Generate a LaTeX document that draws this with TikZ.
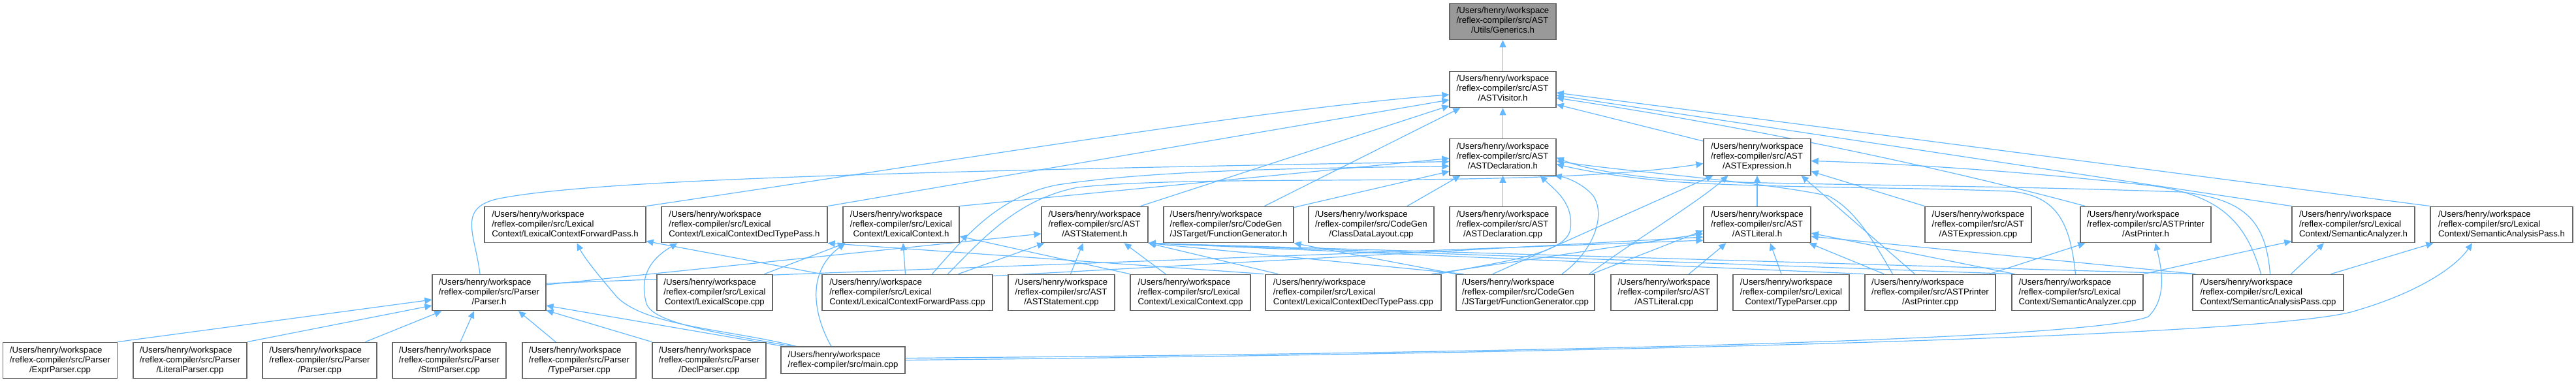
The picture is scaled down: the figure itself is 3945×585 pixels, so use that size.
\documentclass[tikz,border=0pt]{standalone}
\usepackage{fontspec}
\setmainfont{Liberation Sans}
\usetikzlibrary{arrows.meta,calc,backgrounds}
\definecolor{edgeblue}{HTML}{63B8FF}
\definecolor{boxgrey}{HTML}{666666}
\definecolor{rootgrey}{HTML}{999999}
\newcommand\flab[2]{\begin{tabular}{@{}l@{}}/Users/henry/workspace\\#1\\\multicolumn{1}{@{}c@{}}{#2}\end{tabular}}
\newcommand\mlab[1]{\begin{tabular}{@{}l@{}}/Users/henry/workspace\\\multicolumn{1}{@{}c@{}}{#1}\end{tabular}}
\begin{document}
\begin{tikzpicture}[x=1pt,y=-1pt,
  box/.style={draw=boxgrey,line width=1.3pt,fill=white,inner sep=0pt,minimum height=55.5pt,font=\fontsize{13.2}{15}\selectfont},
  dep/.style={draw=edgeblue,line width=1.2pt,-{Triangle[length=11pt,width=10pt]}}]
\useasboundingbox (0,0) rectangle (3945,585);
% row 0-2
\node[box,fill=rootgrey,minimum width=163pt] (G) at (2301.5,33) {\flab{/reflex-compiler/src/AST}{/Utils/Generics.h}};
\node[box,minimum width=163pt] (V) at (2301.5,137) {\flab{/reflex-compiler/src/AST}{/ASTVisitor.h}};
\node[box,minimum width=163pt] (D) at (2301.5,240.5) {\flab{/reflex-compiler/src/AST}{/ASTDeclaration.h}};
\node[box,minimum width=164pt] (E) at (2691,240.5) {\flab{/reflex-compiler/src/AST}{/ASTExpression.h}};
% row 3
\node[box,minimum width=247pt] (LFPh) at (865.5,344) {\flab{/reflex-compiler/src/Lexical}{Context/LexicalContextForwardPass.h}};
\node[box,minimum width=254pt] (LDTh) at (1140,344) {\flab{/reflex-compiler/src/Lexical}{Context/LexicalContextDeclTypePass.h}};
\node[box,minimum width=178pt] (LCh) at (1380,344) {\flab{/reflex-compiler/src/Lexical}{Context/LexicalContext.h}};
\node[box,minimum width=163pt] (Sh) at (1676.5,344) {\flab{/reflex-compiler/src/AST}{/ASTStatement.h}};
\node[box,minimum width=199pt] (FGh) at (1881.5,344) {\flab{/reflex-compiler/src/CodeGen}{/JSTarget/FunctionGenerator.h}};
\node[box,minimum width=192pt] (CDL) at (2100,344) {\flab{/reflex-compiler/src/CodeGen}{/ClassDataLayout.cpp}};
\node[box,minimum width=163pt] (Dcpp) at (2301.5,344) {\flab{/reflex-compiler/src/AST}{/ASTDeclaration.cpp}};
\node[box,minimum width=164pt] (Lh) at (2691,344) {\flab{/reflex-compiler/src/AST}{/ASTLiteral.h}};
\node[box,minimum width=163pt] (Ecpp) at (3029.5,344) {\flab{/reflex-compiler/src/AST}{/ASTExpression.cpp}};
\node[box,minimum width=200pt] (APh) at (3286,344) {\flab{/reflex-compiler/src/ASTPrinter}{/AstPrinter.h}};
\node[box,minimum width=188pt] (SAh) at (3604,344) {\flab{/reflex-compiler/src/Lexical}{Context/SemanticAnalyzer.h}};
\node[box,minimum width=218pt] (SAPh) at (3831,344) {\flab{/reflex-compiler/src/Lexical}{Context/SemanticAnalysisPass.h}};
% row 4
\node[box,minimum width=174pt] (Ph) at (749,448) {\flab{/reflex-compiler/src/Parser}{/Parser.h}};
\node[box,minimum width=177pt] (LScpp) at (1094.5,448) {\flab{/reflex-compiler/src/Lexical}{Context/LexicalScope.cpp}};
\node[box,minimum width=261pt] (LFPcpp) at (1389.5,448) {\flab{/reflex-compiler/src/Lexical}{Context/LexicalContextForwardPass.cpp}};
\node[box,minimum width=163pt] (Scpp) at (1625.5,448) {\flab{/reflex-compiler/src/AST}{/ASTStatement.cpp}};
\node[box,minimum width=184pt] (LCcpp) at (1823,448) {\flab{/reflex-compiler/src/Lexical}{Context/LexicalContext.cpp}};
\node[box,minimum width=269pt] (LDTcpp) at (2072.5,448) {\flab{/reflex-compiler/src/Lexical}{Context/LexicalContextDeclTypePass.cpp}};
\node[box,minimum width=212pt] (FGcpp) at (2336,448) {\flab{/reflex-compiler/src/CodeGen}{/JSTarget/FunctionGenerator.cpp}};
\node[box,minimum width=163pt] (Lcpp) at (2548.5,448) {\flab{/reflex-compiler/src/AST}{/ASTLiteral.cpp}};
\node[box,minimum width=178pt] (TPcpp) at (2743,448) {\flab{/reflex-compiler/src/Lexical}{Context/TypeParser.cpp}};
\node[box,minimum width=200pt] (APcpp) at (2956,448) {\flab{/reflex-compiler/src/ASTPrinter}{/AstPrinter.cpp}};
\node[box,minimum width=201pt] (SAcpp) at (3181.5,448) {\flab{/reflex-compiler/src/Lexical}{Context/SemanticAnalyzer.cpp}};
\node[box,minimum width=231pt] (SAPcpp) at (3473.5,448) {\flab{/reflex-compiler/src/Lexical}{Context/SemanticAnalysisPass.cpp}};
% row 5
\node[box,minimum width=175pt] (ExprP) at (92,552) {\flab{/reflex-compiler/src/Parser}{/ExprParser.cpp}};
\node[box,minimum width=174pt] (LitP) at (291,552) {\flab{/reflex-compiler/src/Parser}{/LiteralParser.cpp}};
\node[box,minimum width=175pt] (Pcpp) at (489.5,552) {\flab{/reflex-compiler/src/Parser}{/Parser.cpp}};
\node[box,minimum width=174pt] (StmtP) at (688,552) {\flab{/reflex-compiler/src/Parser}{/StmtParser.cpp}};
\node[box,minimum width=174pt] (TypeP) at (887,552) {\flab{/reflex-compiler/src/Parser}{/TypeParser.cpp}};
\node[box,minimum width=174pt] (DeclP) at (1086,552) {\flab{/reflex-compiler/src/Parser}{/DeclParser.cpp}};
\node[box,minimum width=190pt,minimum height=41pt] (main) at (1291,551.5) {\mlab{/reflex-compiler/src/main.cpp}};

\begin{scope}[on background layer]
\fill[white] (0,0) rectangle (3945,585);
% into Generics / ASTVisitor
\draw[dep] (V.north) -- (G.south);
\draw[dep] (D.north) -- (V.south);
\draw[dep] ($(E.north west)+(0,4)$) -- ($(V.east)+(0,23)$);
\draw[dep] (LFPh.north east) .. controls (1500,240) and (1950,165) .. ($(V.west)+(0,8)$);
\draw[dep] (LDTh.north east) -- ($(V.west)+(0,16)$);
\draw[dep] ($(Sh.north east)+(-12,0)$) -- ($(V.west)+(0,25)$);
\draw[dep] ($(FGh.north)+(55,0)$) -- ($(V.south west)+(17,0)$);
\draw[dep] ($(APh.north west)+(8,0)$) .. controls (2950,250) and (2650,190) .. ($(V.east)+(0,13)$);
\draw[dep] (SAh.north west) -- ($(V.east)+(0,9)$);
\draw[dep] (SAPh.north west) -- ($(V.east)+(0,5)$);
% into ASTDeclaration
\draw[dep] ($(Ph.north)+(-14,0)$) .. controls (728,360) and (700,320) .. (760,305) .. controls (900,275) and (1400,262) .. ($(D.west)+(0,7)$);
\draw[dep] (LCh.north east) -- ($(D.west)+(0,2)$);
\draw[dep] ($(FGh.north east)+(0,2)$) -- ($(D.west)+(0,22)$);
\draw[dep] ($(CDL.north)+(55,0)$) -- ($(D.south west)+(17,0)$);
\draw[dep] (Dcpp.north) -- (D.south);
\draw[dep] ($(LFPcpp.north)+(38,0)$) .. controls (1480,360) and (1530,300) .. (1620,283) .. controls (1760,262) and (1950,258) .. ($(D.west)+(0,14)$);
\draw[dep] ($(LDTcpp.north east)+(-4,0)$) .. controls (2300,400) and (2400,390) .. (2405,350) .. controls (2410,310) and (2380,290) .. ($(D.south east)+(-25,0)$);
\draw[dep] ($(FGcpp.north)+(56,0)$) .. controls (2440,385) and (2460,330) .. (2440,300) .. controls (2425,282) and (2400,272) .. ($(D.south east)+(-3,0)$);
\draw[dep] ($(APcpp.north west)+(43,0)$) .. controls (2870,370) and (2840,320) .. (2800,300) .. controls (2700,278) and (2480,262) .. ($(D.east)+(0,6)$);
\draw[dep] ($(SAcpp.north)+(-3,0)$) .. controls (3170,340) and (3150,300) .. (3080,293) .. controls (2900,286) and (2700,288) .. (2560,278) .. controls (2470,270) and (2420,260) .. ($(D.east)+(0,11)$);
\draw[dep] ($(SAPcpp.north)+(3,0)$) .. controls (3470,340) and (3440,305) .. (3340,294) .. controls (3000,282) and (2700,284) .. (2550,274) .. controls (2470,267) and (2420,256) .. ($(D.east)+(0,1)$);
% into ASTExpression
\draw[dep] (Lh.north) -- (E.south);
\draw[dep] (Ecpp.north west) -- ($(E.east)+(0,22)$);
\draw[dep] ($(APcpp.north west)+(77,0)$) -- ($(E.south east)+(-15,0)$);
\draw[dep] ($(FGcpp.north)+(-50,0)$) -- ($(E.south west)+(15,0)$);
\draw[dep] ($(FGcpp.north east)+(-9,0)$) .. controls (2500,370) and (2600,310) .. ($(E.south west)+(38,0)$);
\draw[dep] ($(LFPcpp.north)+(62,0)$) .. controls (1510,360) and (1560,305) .. (1650,287) .. controls (1850,265) and (2350,290) .. ($(E.west)+(0,10)$);
\draw[dep] ($(SAPcpp.north)+(-11,0)$) .. controls (3440,340) and (3400,300) .. (3300,285) .. controls (3100,262) and (2900,250) .. ($(E.east)+(0,6)$);
% into ASTLiteral
\draw[dep] ($(Ph.east)+(0,-14)$) -- ($(Lh.west)+(0,24)$);
\draw[dep] ($(LFPcpp.north east)+(0,3)$) -- ($(Lh.west)+(0,19)$);
\draw[dep] ($(LDTcpp.north east)+(-15,0)$) -- ($(Lh.west)+(0,14)$);
\draw[dep] ($(FGcpp.north east)+(-5,0)$) -- ($(Lh.west)+(0,9)$);
\draw[dep] ($(Lcpp.north)+(38,0)$) -- ($(Lh.south west)+(35,0)$);
\draw[dep] ($(TPcpp.north)+(-15,0)$) -- ($(Lh.south)+(20,0)$);
\draw[dep] ($(APcpp.north west)+(30,0)$) -- ($(Lh.south east)+(-3,0)$);
\draw[dep] ($(SAcpp.north west)+(5,0)$) -- ($(Lh.east)+(0,13)$);
\draw[dep] ($(SAPcpp.north west)+(5,0)$) -- ($(Lh.east)+(0,18)$);
% into ASTStatement
\draw[dep] ($(Ph.east)+(0,-12)$) -- ($(Sh.west)+(0,14)$);
\draw[dep] ($(LFPcpp.north east)+(-53,0)$) -- ($(Sh.south west)+(5,0)$);
\draw[dep] ($(Scpp.north)+(14,0)$) -- ($(Sh.south)+(-18,0)$);
\draw[dep] ($(LCcpp.north)+(-38,0)$) -- ($(Sh.south east)+(-37,0)$);
\draw[dep] ($(LDTcpp.north west)+(20,0)$) -- (Sh.south east);
\draw[dep] ($(FGcpp.north west)+(12,0)$) -- (Sh.south east);
\draw[dep] (APcpp.north west) -- (Sh.south east);
\draw[dep] ($(SAcpp.north west)+(2,0)$) -- (Sh.south east);
\draw[dep] ($(SAPcpp.north west)+(2,0)$) -- (Sh.south east);
% lexical context headers
\draw[dep] (LFPcpp.north west) -- ($(LFPh.south east)+(0,-3)$);
\draw[dep] ($(LFPcpp.north)+(-3,0)$) -- ($(LCh.south)+(3,0)$);
\draw[dep] ($(LScpp.north east)+(-13,0)$) -- ($(LCh.south west)+(4,0)$);
\draw[dep] (LCcpp.north west) -- ($(LCh.east)+(0,18)$);
\draw[dep] ($(LDTcpp.north west)+(-2,0)$) -- (LDTh.south east);
\draw[dep] (FGcpp.north west) -- (FGh.south east);
\draw[dep] ($(APcpp.north east)+(-10,0)$) -- ($(APh.south west)+(8,0)$);
\draw[dep] (SAcpp.north east) -- ($(SAh.south west)+(0,-3)$);
\draw[dep] ($(SAPcpp.north)+(35,0)$) -- ($(SAh.south)+(-45,0)$);
\draw[dep] ($(SAPcpp.north east)+(-20,0)$) -- ($(SAPh.south west)+(5,0)$);
% into Parser.h
\draw[dep] (ExprP.north east) -- ($(Ph.west)+(0,11)$);
\draw[dep] (LitP.north east) -- ($(Ph.west)+(0,20)$);
\draw[dep] ($(Pcpp.north)+(70,0)$) -- ($(Ph.south west)+(15,0)$);
\draw[dep] ($(StmtP.north)+(17,0)$) -- ($(Ph.south)+(-23,0)$);
\draw[dep] ($(TypeP.north)+(-36,0)$) -- ($(Ph.south)+(45,0)$);
\draw[dep] (DeclP.north west) -- ($(Ph.south east)+(0,-1)$);
\draw[dep] ($(main.north west)+(5,0)$) -- ($(Ph.east)+(0,20)$);
% from main.cpp
\draw[dep] ($(main.north west)+(24,0)$) .. controls (1120,505) and (990,500) .. (945,455) .. controls (915,420) and (895,395) .. ($(LFPh.south)+(18,0)$);
\draw[dep] ($(main.north west)+(18,0)$) .. controls (1100,510) and (1000,495) .. (990,465) .. controls (980,430) and (990,400) .. ($(LDTh.south west)+(25,0)$);
\draw[dep] ($(main.north)+(-18,0)$) .. controls (1250,490) and (1230,420) .. ($(LCh.south west)+(4,0)$);
\draw[dep] ($(main.east)+(0,-3)$) .. controls (2400,540) and (3200,520) .. (3290,485) .. controls (3320,455) and (3310,410) .. ($(APh.south)+(15,0)$);
\draw[dep] (main.east) .. controls (2500,540) and (3450,515) .. (3600,478) .. controls (3700,450) and (3760,410) .. ($(SAPh.south)+(-45,0)$);
\end{scope}
\end{tikzpicture}
\end{document}
